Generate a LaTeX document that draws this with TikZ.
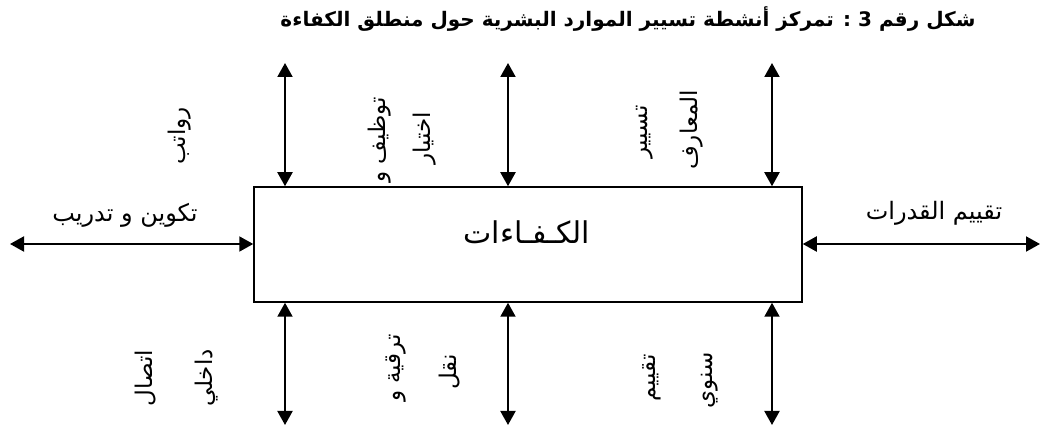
\documentclass[tikz,border=0pt]{standalone}
\usepackage{fontspec}
\usetikzlibrary{arrows.meta}
\TeXXeTstate=1
\newfontfamily\arabicfont[Script=Arabic]{DejaVu Sans}
\begin{document}
\begin{tikzpicture}[x=0.5pt,y=-0.5pt,
  lbl/.style={font=\arabicfont\fontsize{12}{14}\selectfont, inner sep=0pt},
  vlbl/.style={font=\arabicfont\fontsize{11.5}{14}\selectfont, inner sep=0pt, rotate=90},
  biarrow/.style={line width=1pt, {Triangle[width=7.5pt,length=7pt]}-{Triangle[width=7.5pt,length=7pt]}},
  boxst/.style={draw, line width=0.75pt, minimum width=274pt, minimum height=57.5pt, inner sep=0pt}]
\useasboundingbox (0,0) rectangle (1041,427);
% title
\node[font=\arabicfont\bfseries\fontsize{10}{12}\selectfont, inner sep=0pt] (title) at (628,19)
  {\beginR شكل رقم \textbf{3} : تمركز أنشطة تسيير الموارد البشرية حول منطلق الكفاءة\endR};
% box
\node[boxst] (k) at (528,244.5) {};
\node[font=\arabicfont\fontsize{15}{17}\selectfont, inner sep=0pt] (kt) at (527,232) {\beginR الكـفـاءات\endR};
% free ends
\coordinate (L) at (10,244);
\coordinate (R) at (1040,244);
\coordinate (t1) at (285,63);
\coordinate (t2) at (508,63);
\coordinate (t3) at (772,63);
\coordinate (b1) at (285,425);
\coordinate (b2) at (508,425);
\coordinate (b3) at (772,425);
% arrows
\draw[biarrow] (L) -- (L -| k.west);
\draw[biarrow] (k.east |- R) -- (R);
\draw[biarrow] (t1) -- (t1 |- k.north);
\draw[biarrow] (t2) -- (t2 |- k.north);
\draw[biarrow] (t3) -- (t3 |- k.north);
\draw[biarrow] (b1 |- k.south) -- (b1);
\draw[biarrow] (b2 |- k.south) -- (b2);
\draw[biarrow] (b3 |- k.south) -- (b3);
% horizontal labels
\node[lbl] (l1) at (125,215) {\beginR تكوين و تدريب\endR};
\node[lbl] (l2) at (934,213) {\beginR تقييم القدرات\endR};
% vertical labels top
\node[vlbl] (v1) at (180,136) {\beginR رواتب\endR};
\node[vlbl] (v2) at (380,140) {\beginR توظيف و\endR};
\node[vlbl] (v3) at (425,138) {\beginR اختيار\endR};
\node[vlbl] (v4) at (645,132) {\beginR تسيير\endR};
\node[vlbl] (v5) at (692,130) {\beginR المعارف\endR};
% vertical labels bottom
\node[vlbl] (w1) at (146,378) {\beginR اتصال\endR};
\node[vlbl] (w2) at (207,378) {\beginR داخلي\endR};
\node[vlbl] (w3) at (396,368) {\beginR ترقية و\endR};
\node[vlbl] (w4) at (450,372) {\beginR نقل\endR};
\node[vlbl] (w5) at (652,378) {\beginR تقييم\endR};
\node[vlbl] (w6) at (710,380) {\beginR سنوي\endR};
\end{tikzpicture}
\end{document}
